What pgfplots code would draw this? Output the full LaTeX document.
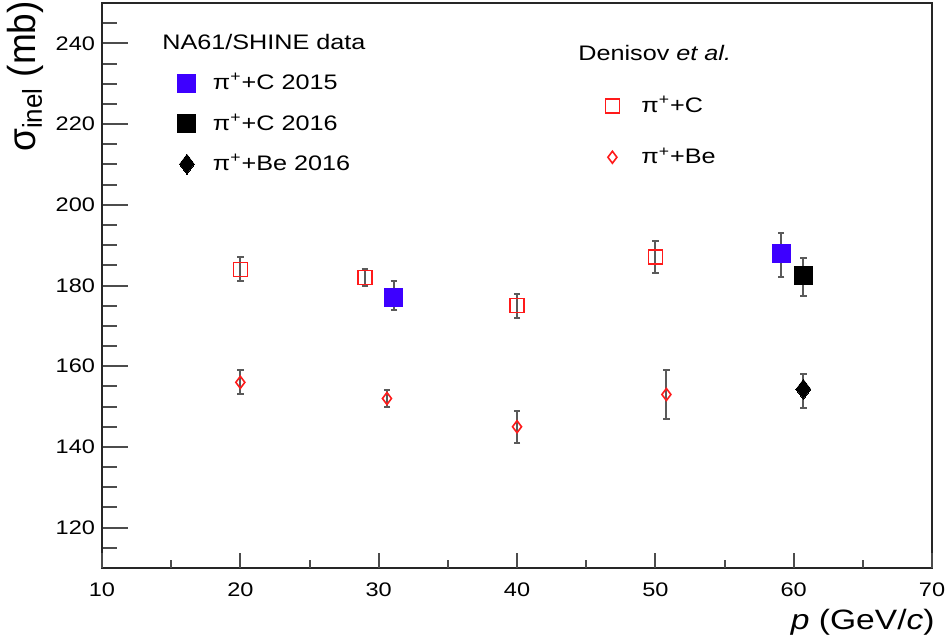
\documentclass[border=0pt]{standalone}
\usepackage{fontspec}
\setmainfont{Liberation Sans}[FakeStretch=1.2]
\newfontfamily\ylabfont{Liberation Sans}[FakeStretch=0.95]
\usepackage{pgfplots}
\pgfplotsset{compat=1.18}
\definecolor{dred}{HTML}{FF1A1A}
\definecolor{nblue}{HTML}{3D00FF}
\definecolor{ebar}{HTML}{5A5A5A}
\pgfplotsset{
  common/.style={
    scale only axis, width=415pt, height=282.5pt,
    xmin=10, xmax=70, ymin=110, ymax=250,
    /pgf/number format/assume math mode=true,
    tick align=inside,
    legend cell align=left,
  },
  ebars/.style={error bars/.cd, y dir=both, y explicit,
    error bar style={ebar, line width=1pt},
    error mark options={ebar, line width=1pt, mark size=1.6pt, rotate=90}},
}
\begin{document}
\begin{tikzpicture}
% main axis: frame, y ticks, labels, Denisov data
\begin{axis}[common, name=main,
  axis line style={black!85, line width=1pt},
  xtick=\empty, ytick pos=left,
  ytick={120,140,...,240},
  minor ytick={115,125,130,135,145,150,155,165,170,175,185,190,195,205,210,215,225,230,235,245},
  major tick length=13pt, minor tick length=7.5pt,
  every tick/.style={black!70, line width=1pt},
  yticklabel style={font=\fontsize{9.8}{12}\selectfont},
  ylabel={\ylabfont\fontsize{19.5}{23}\selectfont σ\textsubscript{inel} (mb)},
  ylabel style={at={(axis description cs:-0.092,1.004)}, anchor=east, inner sep=0pt},
  legend style={draw=none, fill=none, at={(rel axis cs:0.606,0.843)}, anchor=north west,
    row sep=12pt, font=\fontsize{10.5}{12.6}\selectfont, inner sep=0pt,
    /tikz/every odd column/.append style={column sep=9pt}},
]
\coordinate (sw) at (rel axis cs:0,0);
\coordinate (ne) at (rel axis cs:1,1);
\addplot[only marks, mark=square, mark size=3.5pt, mark options={dred, line width=0.8pt, fill=white}, ebars]
  coordinates {(20,184) +- (0,3) (29,182) +- (0,2) (40,175) +- (0,3) (50,187) +- (0,4)};
\addlegendentry{π\textsuperscript{+}+C}
\addplot[only marks, mark=diamond, mark size=3pt, mark options={dred, line width=0.8pt, fill=white}, ebars]
  coordinates {(20,156) +- (0,3) (30.6,152) +- (0,2) (40,145) +- (0,4) (50.8,153) +- (0,6)};
\addlegendentry{π\textsuperscript{+}+Be}
\node[anchor=west, font=\fontsize{10.5}{12.6}\selectfont, inner sep=0pt] at (rel axis cs:0.5735,0.9115) {Denisov \textit{et al.}};
\node[anchor=west, font=\fontsize{10.5}{12.6}\selectfont, inner sep=0pt] at (rel axis cs:0.0723,0.931) {NA61/SHINE data};
\end{axis}
% overlay axis: x ticks, x label, NA61 data
\begin{axis}[common,
  axis line style={draw=none},
  ytick=\empty, xtick pos=bottom,
  xtick={10,20,...,70}, minor xtick={15,25,...,65},
  major tick length=7.5pt, minor tick length=4pt,
  every tick/.style={black!70, line width=1pt},
  xticklabel style={font=\fontsize{9.8}{12}\selectfont, yshift=-4pt},
  xlabel={\fontsize{14}{17}\selectfont\textit{p} (GeV/\textit{c})},
  xlabel style={at={(axis description cs:1.0036,-0.0956)}, anchor=east, inner sep=0pt},
  legend style={draw=none, fill=none, at={(rel axis cs:0.091,0.883)}, anchor=north west,
    row sep=6.5pt, font=\fontsize{10.5}{12.6}\selectfont, inner sep=0pt,
    /tikz/every odd column/.append style={column sep=6.5pt}},
]
\addplot[only marks, mark=square*, mark size=4.5pt, mark options={nblue, fill=nblue, line width=0pt}, ebars]
  coordinates {(31.1,177) += (0,4) -= (0,3) (59.1,188) += (0,5) -= (0,6)};
\addlegendentry{π\textsuperscript{+}+C 2015}
\addplot[only marks, mark=square*, mark size=4.5pt, mark options={black, fill=black, line width=0pt}, ebars]
  coordinates {(60.7,182.5) += (0,4.4) -= (0,5.1)};
\addlegendentry{π\textsuperscript{+}+C 2016}
\addplot[only marks, mark=diamond*, mark size=5pt, mark options={black, fill=black, line width=0pt}, ebars]
  coordinates {(60.7,154.3) += (0,3.8) -= (0,4.6)};
\addlegendentry{π\textsuperscript{+}+Be 2016}
\end{axis}
\pgfresetboundingbox
\path[use as bounding box] ([shift={(-51pt,-35.5pt)}]sw) rectangle ([shift={(7pt,1.5pt)}]ne);
\end{tikzpicture}
\end{document}
